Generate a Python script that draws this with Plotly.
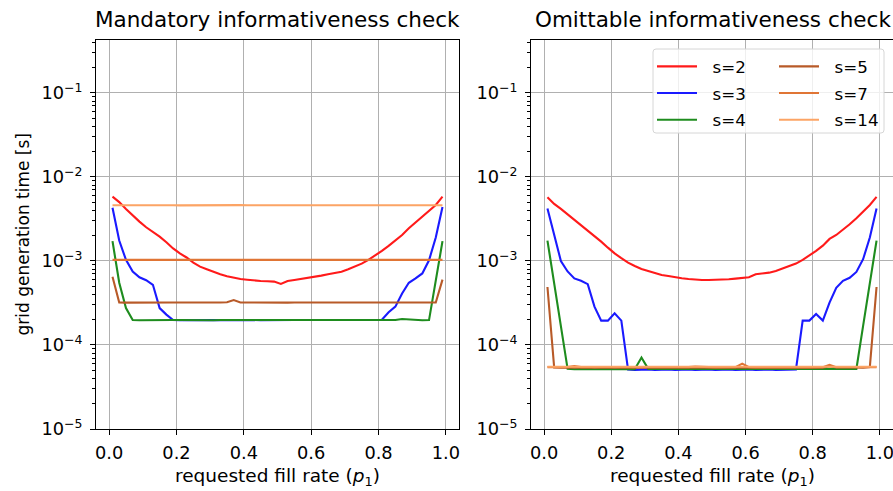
import plotly.graph_objects as go

# Requested fill rates (p1) at which grids were generated
fill_rate = [0.01, 0.03, 0.05, 0.07, 0.09, 0.11, 0.13, 0.15, 0.17, 0.19,
             0.21, 0.23, 0.25, 0.27, 0.29, 0.31, 0.33, 0.35, 0.37, 0.39,
             0.41, 0.43, 0.45, 0.47, 0.49, 0.51, 0.53, 0.55, 0.57, 0.59,
             0.61, 0.63, 0.65, 0.67, 0.69, 0.71, 0.73, 0.75, 0.77, 0.79,
             0.81, 0.83, 0.85, 0.87, 0.89, 0.91, 0.93, 0.95, 0.97, 0.99]

series_labels = ["s=2", "s=3", "s=4", "s=5", "s=7", "s=14"]
series_colors = ["#ff1a1a", "#1a1aff", "#1e8c1e", "#b85a28", "#e07535", "#fca465"]

# Mean grid generation time [s], mandatory informativeness check
mand_s2 = [5.83e-3, 5.02e-3, 4.16e-3, 3.46e-3, 2.94e-3, 2.52e-3, 2.23e-3, 1.95e-3, 1.67e-3, 1.41e-3,
           1.23e-3, 1.10e-3, 9.55e-4, 8.56e-4, 7.96e-4, 7.40e-4, 6.94e-4, 6.57e-4, 6.27e-4, 6.10e-4,
           5.99e-4, 5.83e-4, 5.78e-4, 5.73e-4, 5.68e-4, 5.32e-4, 5.78e-4, 5.94e-4, 6.10e-4, 6.27e-4,
           6.51e-4, 6.69e-4, 6.94e-4, 7.20e-4, 7.46e-4, 7.96e-4, 8.56e-4, 9.30e-4, 1.03e-3, 1.16e-3,
           1.32e-3, 1.51e-3, 1.75e-3, 2.04e-3, 2.45e-3, 2.89e-3, 3.37e-3, 3.93e-3, 4.64e-3, 5.83e-3]
mand_s3 = [4.30e-3, 1.75e-3, 1.03e-3, 7.50e-4, 6.40e-4, 5.90e-4, 5.20e-4, 2.75e-4, 2.30e-4, 1.98e-4,
           1.97e-4, 1.98e-4, 1.98e-4, 1.97e-4, 1.98e-4, 1.98e-4, 1.97e-4, 1.98e-4, 1.98e-4, 1.97e-4,
           1.98e-4, 1.98e-4, 1.97e-4, 1.98e-4, 1.98e-4, 1.98e-4, 1.97e-4, 1.98e-4, 1.98e-4, 1.98e-4,
           1.97e-4, 1.98e-4, 2.00e-4, 1.98e-4, 1.97e-4, 1.98e-4, 1.98e-4, 1.97e-4, 1.98e-4, 1.98e-4,
           2.00e-4, 2.45e-4, 2.86e-4, 4.10e-4, 5.50e-4, 6.20e-4, 7.10e-4, 1.02e-3, 1.90e-3, 4.40e-3]
mand_s4 = [1.72e-3, 5.50e-4, 2.75e-4, 1.98e-4, 1.97e-4, 1.98e-4, 1.98e-4, 1.97e-4, 1.98e-4, 1.98e-4,
           1.98e-4, 1.97e-4, 1.98e-4, 1.98e-4, 1.98e-4, 1.97e-4, 1.98e-4, 1.98e-4, 1.97e-4, 1.98e-4,
           1.98e-4, 1.98e-4, 1.97e-4, 1.98e-4, 1.98e-4, 1.97e-4, 1.98e-4, 1.98e-4, 1.98e-4, 1.97e-4,
           1.98e-4, 1.98e-4, 1.97e-4, 1.98e-4, 1.98e-4, 1.98e-4, 1.97e-4, 1.98e-4, 1.98e-4, 1.97e-4,
           1.98e-4, 1.98e-4, 1.98e-4, 2.04e-4, 2.01e-4, 1.98e-4, 1.97e-4, 1.98e-4, 5.90e-4, 1.72e-3]
mand_s5 = [6.50e-4, 3.20e-4, 3.19e-4, 3.20e-4, 3.21e-4, 3.20e-4, 3.19e-4, 3.20e-4, 3.20e-4, 3.21e-4,
           3.20e-4, 3.19e-4, 3.20e-4, 3.20e-4, 3.20e-4, 3.21e-4, 3.20e-4, 3.22e-4, 3.43e-4, 3.21e-4,
           3.20e-4, 3.19e-4, 3.20e-4, 3.20e-4, 3.21e-4, 3.20e-4, 3.19e-4, 3.20e-4, 3.20e-4, 3.20e-4,
           3.21e-4, 3.20e-4, 3.19e-4, 3.20e-4, 3.20e-4, 3.21e-4, 3.20e-4, 3.20e-4, 3.19e-4, 3.20e-4,
           3.20e-4, 3.21e-4, 3.20e-4, 3.19e-4, 3.20e-4, 3.20e-4, 3.21e-4, 3.20e-4, 3.20e-4, 6.00e-4]
mand_s7 = [1.03e-3, 1.03e-3, 1.02e-3, 1.03e-3, 1.03e-3, 1.04e-3, 1.03e-3, 1.03e-3, 1.02e-3, 1.03e-3,
           1.03e-3, 1.03e-3, 1.04e-3, 1.03e-3, 1.03e-3, 1.03e-3, 1.02e-3, 1.03e-3, 1.03e-3, 1.03e-3,
           1.04e-3, 1.03e-3, 1.03e-3, 1.02e-3, 1.03e-3, 1.03e-3, 1.03e-3, 1.04e-3, 1.03e-3, 1.03e-3,
           1.03e-3, 1.02e-3, 1.03e-3, 1.03e-3, 1.03e-3, 1.04e-3, 1.03e-3, 1.03e-3, 1.02e-3, 1.03e-3,
           1.03e-3, 1.03e-3, 1.04e-3, 1.03e-3, 1.03e-3, 1.03e-3, 1.02e-3, 1.03e-3, 1.03e-3, 1.03e-3]
mand_s14 = [4.60e-3, 4.61e-3, 4.60e-3, 4.59e-3, 4.60e-3, 4.62e-3, 4.60e-3, 4.60e-3, 4.61e-3, 4.60e-3,
            4.59e-3, 4.60e-3, 4.62e-3, 4.60e-3, 4.60e-3, 4.61e-3, 4.60e-3, 4.59e-3, 4.60e-3, 4.62e-3,
            4.60e-3, 4.60e-3, 4.61e-3, 4.60e-3, 4.60e-3, 4.63e-3, 4.60e-3, 4.61e-3, 4.60e-3, 4.59e-3,
            4.60e-3, 4.62e-3, 4.60e-3, 4.60e-3, 4.61e-3, 4.60e-3, 4.59e-3, 4.60e-3, 4.62e-3, 4.60e-3,
            4.60e-3, 4.61e-3, 4.60e-3, 4.59e-3, 4.60e-3, 4.62e-3, 4.60e-3, 4.60e-3, 4.61e-3, 4.60e-3]

# Mean grid generation time [s], omittable informativeness check
omit_s2 = [5.73e-3, 4.77e-3, 4.16e-3, 3.59e-3, 3.08e-3, 2.68e-3, 2.30e-3, 1.98e-3, 1.70e-3, 1.44e-3,
           1.23e-3, 1.08e-3, 9.55e-4, 8.72e-4, 8.03e-4, 7.60e-4, 7.13e-4, 6.81e-4, 6.63e-4, 6.39e-4,
           6.22e-4, 6.10e-4, 5.99e-4, 5.94e-4, 5.94e-4, 5.94e-4, 5.99e-4, 6.05e-4, 6.16e-4, 6.22e-4,
           6.39e-4, 6.94e-4, 7.07e-4, 7.26e-4, 7.60e-4, 8.18e-4, 8.72e-4, 9.30e-4, 1.03e-3, 1.16e-3,
           1.32e-3, 1.52e-3, 1.83e-3, 2.04e-3, 2.34e-3, 2.73e-3, 3.22e-3, 3.87e-3, 4.64e-3, 5.78e-3]
omit_s3 = [4.20e-3, 2.00e-3, 1.00e-3, 7.50e-4, 6.20e-4, 5.80e-4, 5.30e-4, 2.86e-4, 1.95e-4, 1.95e-4,
           2.38e-4, 1.95e-4, 5.10e-5, 5.05e-5, 5.10e-5, 5.10e-5, 5.05e-5, 5.10e-5, 5.10e-5, 5.05e-5,
           5.10e-5, 5.10e-5, 5.05e-5, 5.10e-5, 5.10e-5, 5.05e-5, 5.10e-5, 5.10e-5, 5.05e-5, 5.10e-5,
           5.10e-5, 5.05e-5, 5.10e-5, 5.10e-5, 5.05e-5, 5.10e-5, 5.10e-5, 5.10e-5, 1.95e-4, 1.95e-4,
           2.34e-4, 1.95e-4, 3.20e-4, 4.80e-4, 5.80e-4, 6.30e-4, 7.40e-4, 1.05e-3, 1.90e-3, 4.20e-3]
omit_s4 = [1.75e-3, 5.40e-4, 1.69e-4, 5.20e-5, 5.15e-5, 5.20e-5, 5.20e-5, 5.15e-5, 5.20e-5, 5.20e-5,
           5.15e-5, 5.20e-5, 5.20e-5, 5.15e-5, 7.10e-5, 5.20e-5, 5.20e-5, 5.15e-5, 5.20e-5, 5.20e-5,
           5.15e-5, 5.20e-5, 5.20e-5, 5.15e-5, 5.20e-5, 5.20e-5, 5.15e-5, 5.20e-5, 5.20e-5, 5.15e-5,
           5.20e-5, 5.20e-5, 5.15e-5, 5.20e-5, 5.20e-5, 5.15e-5, 5.20e-5, 5.20e-5, 5.15e-5, 5.20e-5,
           5.20e-5, 5.15e-5, 5.20e-5, 5.20e-5, 5.15e-5, 5.20e-5, 5.20e-5, 1.69e-4, 5.40e-4, 1.75e-3]
omit_s5 = [4.90e-4, 5.40e-5, 5.35e-5, 5.40e-5, 5.40e-5, 5.35e-5, 5.40e-5, 5.40e-5, 5.35e-5, 5.40e-5,
           5.40e-5, 5.35e-5, 5.40e-5, 5.40e-5, 5.35e-5, 5.40e-5, 5.40e-5, 5.35e-5, 5.40e-5, 5.40e-5,
           5.35e-5, 5.40e-5, 5.40e-5, 5.35e-5, 5.40e-5, 5.40e-5, 5.35e-5, 5.40e-5, 5.40e-5, 5.35e-5,
           5.40e-5, 5.40e-5, 5.35e-5, 5.40e-5, 5.40e-5, 5.35e-5, 5.40e-5, 5.40e-5, 5.35e-5, 5.40e-5,
           5.40e-5, 5.35e-5, 5.60e-5, 5.40e-5, 5.35e-5, 5.40e-5, 5.40e-5, 5.35e-5, 5.45e-5, 4.90e-4]
omit_s7 = [5.45e-5, 5.45e-5, 5.40e-5, 5.45e-5, 5.60e-5, 5.45e-5, 5.45e-5, 5.40e-5, 5.45e-5, 5.45e-5,
           5.45e-5, 5.40e-5, 5.45e-5, 5.45e-5, 5.45e-5, 5.40e-5, 5.45e-5, 5.45e-5, 5.45e-5, 5.40e-5,
           5.45e-5, 5.45e-5, 5.55e-5, 5.45e-5, 5.45e-5, 5.40e-5, 5.45e-5, 5.45e-5, 5.45e-5, 6.00e-5,
           5.45e-5, 5.40e-5, 5.45e-5, 5.45e-5, 5.45e-5, 5.40e-5, 5.45e-5, 5.45e-5, 5.45e-5, 5.40e-5,
           5.45e-5, 5.45e-5, 5.80e-5, 5.45e-5, 5.45e-5, 5.40e-5, 5.45e-5, 5.45e-5, 5.45e-5, 5.45e-5]
omit_s14 = [5.50e-5, 5.50e-5, 5.50e-5, 5.55e-5, 5.50e-5, 5.50e-5, 5.50e-5, 5.50e-5, 5.55e-5, 5.50e-5,
            5.50e-5, 5.50e-5, 5.50e-5, 5.55e-5, 5.50e-5, 5.50e-5, 5.50e-5, 5.50e-5, 5.55e-5, 5.50e-5,
            5.50e-5, 5.50e-5, 5.50e-5, 5.55e-5, 5.50e-5, 5.50e-5, 5.50e-5, 5.50e-5, 5.55e-5, 5.50e-5,
            5.50e-5, 5.50e-5, 5.50e-5, 5.55e-5, 5.50e-5, 5.50e-5, 5.50e-5, 5.50e-5, 5.55e-5, 5.50e-5,
            5.50e-5, 5.50e-5, 5.50e-5, 5.55e-5, 5.50e-5, 5.50e-5, 5.50e-5, 5.50e-5, 5.55e-5, 5.50e-5]

mandatory = [mand_s2, mand_s3, mand_s4, mand_s5, mand_s7, mand_s14]
omittable = [omit_s2, omit_s3, omit_s4, omit_s5, omit_s7, omit_s14]

y_decades = [1e-5, 1e-4, 1e-3, 1e-2, 1e-1]
y_decade_text = ["10<sup>\u22125</sup>", "10<sup>\u22124</sup>", "10<sup>\u22123</sup>",
                 "10<sup>\u22122</sup>", "10<sup>\u22121</sup>"]
x_ticks = [0.0, 0.2, 0.4, 0.6, 0.8, 1.0]
x_tick_text = ["0.0", "0.2", "0.4", "0.6", "0.8", "1.0"]

FONT = "DejaVu Sans"
W, H = 893, 491

fig = go.Figure()
for i, label in enumerate(series_labels):
    line = dict(color=series_colors[i], width=2.1)
    fig.add_trace(go.Scatter(x=fill_rate, y=mandatory[i], mode="lines", line=line,
                             name=label, legendgroup=label, showlegend=False,
                             xaxis="x", yaxis="y", hoverinfo="skip"))
    fig.add_trace(go.Scatter(x=fill_rate, y=omittable[i], mode="lines", line=line,
                             name="\u00a0\u00a0" + label, legendgroup=label, showlegend=True,
                             legend="legend" if i < 3 else "legend2",
                             xaxis="x2", yaxis="y2", hoverinfo="skip"))

# log-scale minor tick positions (2..9 per decade)
minor_vals = []
for d in [1e-5, 1e-4, 1e-3, 1e-2, 1e-1]:
    for m in range(2, 10):
        if m * d < 0.43:
            minor_vals.append(m * d)

tick_font = dict(family=FONT, size=17.8, color="black")
y_dom = [1 - 429 / H, 1 - 40 / H]


def y_axis(anchor, mirror):
    return dict(type="log", range=[-5, -0.37], domain=y_dom, anchor=anchor, automargin=False,
                tickmode="array", tickvals=y_decades, ticktext=y_decade_text,
                ticks="outside", ticklen=5, tickwidth=1.1, tickcolor="black",
                ticklabelstandoff=4,
                showline=True, linecolor="black", linewidth=1.1, mirror=mirror,
                showgrid=True, gridcolor="#b0b0b0", gridwidth=1.1, zeroline=False,
                tickfont=tick_font,
                minor=dict(tickmode="array", tickvals=minor_vals, ticks="outside",
                           ticklen=2.8, tickwidth=0.8, tickcolor="black", showgrid=False))


def x_axis(domain, anchor):
    return dict(range=[-0.039, 1.039], domain=domain, anchor=anchor, automargin=False,
                tickmode="array", tickvals=x_ticks, ticktext=x_tick_text,
                ticks="outside", ticklen=5, tickwidth=1.1, tickcolor="black",
                ticklabelstandoff=3, ticklabeloverflow="allow",
                showline=True, linecolor="black", linewidth=1.1, mirror=True,
                showgrid=True, gridcolor="#b0b0b0", gridwidth=1.1, zeroline=False,
                tickfont=tick_font)


left_dom = [96 / W, 459 / W]
right_dom = [531 / W, 1.0]

legend_font = dict(family=FONT, size=16.7, color="black")
legend_common = dict(orientation="v", xanchor="left", yanchor="top", y=1 - 49 / H,
                     bgcolor="rgba(0,0,0,0)", borderwidth=0, font=legend_font,
                     itemwidth=40, tracegroupgap=2, traceorder="grouped",
                     itemclick=False, itemdoubleclick=False)

title_font = dict(family=FONT, size=21.5, color="black")
xlabel_font = dict(family=FONT, size=18.5, color="black")
ylabel_font = dict(family=FONT, size=17, color="black")


def cx(dom):
    return (dom[0] + dom[1]) / 2


annotations = [
    dict(text="Mandatory informativeness check", x=cx(left_dom), y=1 - 33.5 / H,
         xref="paper", yref="paper", xanchor="center", yanchor="bottom",
         showarrow=False, font=title_font),
    dict(text="Omittable informativeness check", x=(531 + 894) / 2 / W, y=1 - 33.5 / H,
         xref="paper", yref="paper", xanchor="center", yanchor="bottom",
         showarrow=False, font=title_font),
    dict(text="requested fill rate (<i>p</i><sub>1</sub>)", x=cx(left_dom), y=1 - 463 / H,
         xref="paper", yref="paper", xanchor="center", yanchor="top",
         showarrow=False, font=xlabel_font),
    dict(text="requested fill rate (<i>p</i><sub>1</sub>)", x=(531 + 894) / 2 / W, y=1 - 463 / H,
         xref="paper", yref="paper", xanchor="center", yanchor="top",
         showarrow=False, font=xlabel_font),
    dict(text="grid generation time [s]", x=22 / W, y=cx(y_dom),
         xref="paper", yref="paper", xanchor="center", yanchor="middle",
         textangle=-90, showarrow=False, font=ylabel_font),
]

# rounded legend frame
x0, x1 = 653 / W, 884 / W
y0, y1 = 1 - 133 / H, 1 - 49 / H
rx, ry = 3 / W, 3 / H
frame_path = (f"M{x0 + rx},{y1} L{x1 - rx},{y1} Q{x1},{y1} {x1},{y1 - ry} "
              f"L{x1},{y0 + ry} Q{x1},{y0} {x1 - rx},{y0} L{x0 + rx},{y0} "
              f"Q{x0},{y0} {x0},{y0 + ry} L{x0},{y1 - ry} Q{x0},{y1} {x0 + rx},{y1} Z")

fig.update_layout(
    width=W, height=H,
    margin=dict(l=0, r=0, t=0, b=0),
    paper_bgcolor="white", plot_bgcolor="white",
    font=dict(family=FONT, color="black"),
    xaxis=x_axis(left_dom, "y"),
    yaxis=y_axis("x", True),
    xaxis2=x_axis(right_dom, "y2"),
    # the right-hand frame edge of this panel falls just outside the figure
    yaxis2=y_axis("x2", False),
    legend=dict(legend_common, x=652 / W),
    legend2=dict(legend_common, x=774 / W),
    annotations=annotations,
    shapes=[dict(type="path", path=frame_path, xref="paper", yref="paper",
                 fillcolor="rgba(255,255,255,0.8)", line=dict(color="#d6d6d6", width=1),
                 layer="above")],
)

fig.write_html("out.html")
